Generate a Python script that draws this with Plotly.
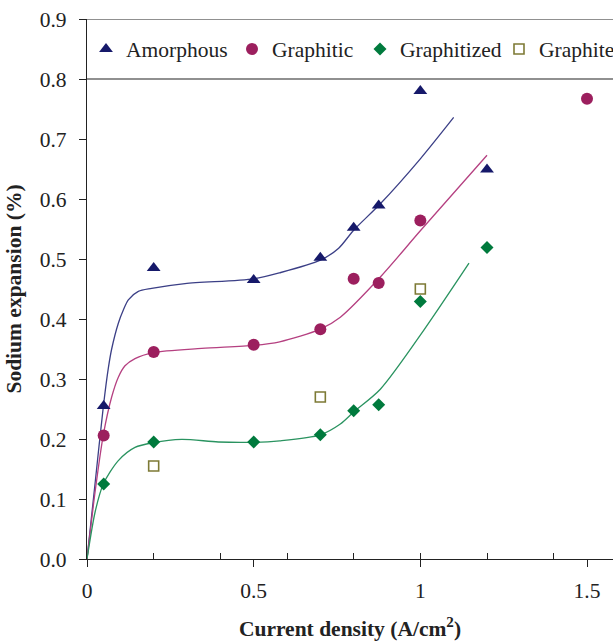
import plotly.graph_objects as go

# Measured points
x_amorph = [0.05, 0.2, 0.5, 0.7, 0.8, 0.875, 1.0, 1.2]
y_amorph = [0.255, 0.485, 0.465, 0.502, 0.552, 0.589, 0.780, 0.649]

x_graphitic = [0.05, 0.2, 0.5, 0.7, 0.8, 0.875, 1.0, 1.5]
y_graphitic = [0.206, 0.345, 0.357, 0.383, 0.467, 0.460, 0.564, 0.767]

x_graphitized = [0.05, 0.2, 0.5, 0.7, 0.8, 0.875, 1.0, 1.2]
y_graphitized = [0.125, 0.195, 0.195, 0.207, 0.247, 0.257, 0.429, 0.519]

x_graphite = [0.2, 0.7, 1.0]
y_graphite = [0.155, 0.270, 0.450]

# Trend curves
cx_amorph = [0.0, 0.025, 0.049, 0.064, 0.074, 0.094, 0.109, 0.124, 0.154, 0.194, 0.294, 0.5, 0.578, 0.70, 0.755, 0.80, 0.88, 1.0, 1.1]
cy_amorph = [0.0, 0.13, 0.254, 0.318, 0.350, 0.393, 0.415, 0.432, 0.446, 0.451, 0.459, 0.467, 0.477, 0.498, 0.518, 0.548, 0.592, 0.667, 0.736]

cx_graphitic = [0.0, 0.025, 0.049, 0.074, 0.094, 0.114, 0.144, 0.199, 0.344, 0.5, 0.578, 0.70, 0.76, 0.88, 1.0, 1.2]
cy_graphitic = [0.0, 0.115, 0.207, 0.270, 0.303, 0.322, 0.334, 0.344, 0.351, 0.356, 0.362, 0.383, 0.403, 0.470, 0.547, 0.673]

cx_graphitized = [0.0, 0.025, 0.049, 0.094, 0.144, 0.199, 0.284, 0.394, 0.5, 0.578, 0.70, 0.76, 0.80, 0.88, 1.0, 1.146]
cy_graphitized = [0.0, 0.080, 0.125, 0.164, 0.186, 0.194, 0.1995, 0.195, 0.1945, 0.197, 0.207, 0.225, 0.245, 0.283, 0.373, 0.493]

x_tickvals = [0, 0.5, 1, 1.5]
x_ticktext = ["0", "0.5", "1", "1.5"]
y_tickvals = [0.0, 0.1, 0.2, 0.3, 0.4, 0.5, 0.6, 0.7, 0.8, 0.9]

NAVY = "#16196a"
NAVY_L = "#3b3f86"
MAG = "#9c1f5e"
MAG_L = "#b54081"
GRN = "#007a3d"
GRN_L = "#2a9360"
OLIVE = "#7d7a35"

FONT = "Liberation Serif, Times New Roman, serif"
FS = 21.5

fig = go.Figure()

for cx, cy, col in [(cx_amorph, cy_amorph, NAVY_L), (cx_graphitic, cy_graphitic, MAG_L),
                    (cx_graphitized, cy_graphitized, GRN_L)]:
    fig.add_trace(go.Scatter(x=cx, y=cy, mode="lines", line=dict(color=col, width=1.3, shape="spline", smoothing=0.8),
                             showlegend=False, hoverinfo="skip"))

fig.add_trace(go.Scatter(x=x_amorph, y=y_amorph, mode="markers", name="Amorphous", legendwidth=101,
                         marker=dict(symbol="triangle-up", size=12, color=NAVY)))
fig.add_trace(go.Scatter(x=x_graphitic, y=y_graphitic, mode="markers", name="Graphitic", legendwidth=83,
                         marker=dict(symbol="circle", size=12, color=MAG)))
fig.add_trace(go.Scatter(x=x_graphitized, y=y_graphitized, mode="markers", name="Graphitized", legendwidth=94,
                         marker=dict(symbol="diamond", size=10, color=GRN)))
fig.add_trace(go.Scatter(x=x_graphite, y=y_graphite, mode="markers", name="Graphite", legendwidth=69,
                         marker=dict(symbol="square-open", size=10, color=OLIVE, line=dict(width=1.6, color=OLIVE))))

# inside minor ticks on x
fig.add_trace(go.Scatter(x=[0], y=[0], xaxis="x2", mode="markers", marker=dict(opacity=0),
                         showlegend=False, hoverinfo="skip"))

XR = [0, 1.578]
fig.update_layout(
    width=613, height=641,
    margin=dict(l=87, r=0, t=19, b=82),
    paper_bgcolor="white", plot_bgcolor="white",
    font=dict(family=FONT, size=FS, color="#222"),
    xaxis=dict(range=XR, tickvals=x_tickvals, ticktext=x_ticktext, ticks="outside", ticklen=7,
               tickcolor="#222", showline=True, linecolor="#222", linewidth=1.2, showgrid=False,
               zeroline=False, ticklabelstandoff=5, tickfont=dict(family=FONT, size=FS),
               title=dict(text="<b>Current density (A/cm<sup>2</sup>)</b>", font=dict(family=FONT, size=FS), standoff=24)),
    xaxis2=dict(range=XR, overlaying="x", anchor="y", side="bottom", tickmode="linear", tick0=0, dtick=0.2,
                ticks="inside", ticklen=6, tickcolor="#222", showticklabels=False, showgrid=False,
                zeroline=False, showline=False),
    yaxis=dict(range=[0, 0.9], tickvals=y_tickvals, tickformat=".1f", ticks="outside", ticklen=7,
               tickcolor="#222", showline=True, linecolor="#222", linewidth=1.2, showgrid=False,
               zeroline=False, ticklabelstandoff=8, tickfont=dict(family=FONT, size=FS),
               title=dict(text="<b>Sodium expansion (%)</b>", font=dict(family=FONT, size=FS), standoff=12)),
    legend=dict(orientation="h", x=0.0, xanchor="left", y=0.85 / 0.9, yref="paper", yanchor="middle",
                bgcolor="rgba(0,0,0,0)", font=dict(size=FS, family=FONT, color="#222"),
                itemwidth=30, tracegroupgap=0),
    showlegend=True,
)

fig.add_shape(type="line", xref="paper", yref="y", x0=0, x1=1, y0=0.9, y1=0.9, line=dict(color="#222", width=1.2))
fig.add_shape(type="line", xref="paper", yref="y", x0=0, x1=1, y0=0.8, y1=0.8, line=dict(color="#222", width=1.2))

fig.write_html("out.html")
